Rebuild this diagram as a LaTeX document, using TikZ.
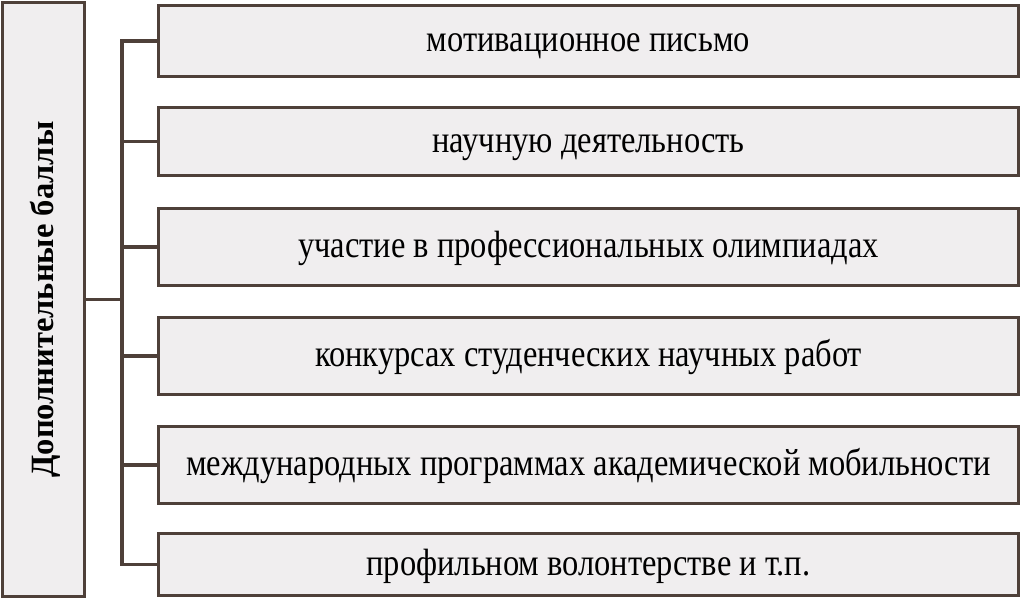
\documentclass[tikz,border=0pt]{standalone}
\usepackage{fontspec}
\setmainfont{Liberation Serif}
\newfontfamily\narrowfont[FakeStretch=0.855]{Liberation Serif}
\usetikzlibrary{positioning}
\definecolor{edgebrown}{HTML}{4E4039}
\definecolor{boxgray}{HTML}{F0EEEF}

\begin{document}
\begin{tikzpicture}[x=1pt,y=-1pt]
\tikzstyle{item}=[rectangle, draw=edgebrown, fill=boxgray, line width=3.5pt, minimum width=860pt, inner sep=0pt, text height=21pt, text depth=0pt, font=\narrowfont\fontsize{38}{42}\selectfont]
\tikzstyle{main}=[rectangle, draw=edgebrown, fill=boxgray, line width=3.5pt, minimum width=82pt, minimum height=594pt, inner sep=0pt]
\tikzstyle{connect}=[draw=edgebrown, line width=3.5pt]
\useasboundingbox (0,0) rectangle (1024,600);
  \node[main] (bonus) at (43.5,299.5) {};
  \node[rotate=90, inner sep=0pt, text height=19pt, text depth=0pt, font=\fontsize{32.5}{36}\selectfont\bfseries] (title) at (bonus.center) {Дополнительные баллы};
  \node[item, minimum height=71pt] (m1) at (588.5,41) {мотивационное письмо};
  \node[item, minimum height=68pt] (m2) at (588.5,141.5) {научную деятельность};
  \node[item, minimum height=77pt] (m3) at (588.5,247) {участие в профессиональных олимпиадах};
  \node[item, minimum height=77pt] (m4) at (588.5,356) {конкурсах студенческих научных работ};
  \node[item, minimum height=77pt] (m5) at (588.5,465) {международных программах академической мобильности};
  \node[item, minimum height=62pt] (m6) at (588.5,564.5) {профильном волонтерстве и т.п.};
  \coordinate (hub) at (122,299.5);
  \draw[connect] (bonus.east) -- (hub);
  \foreach \i in {1,...,6}
    \draw[connect] (m\i.west) -| (hub);
\end{tikzpicture}
\end{document}
